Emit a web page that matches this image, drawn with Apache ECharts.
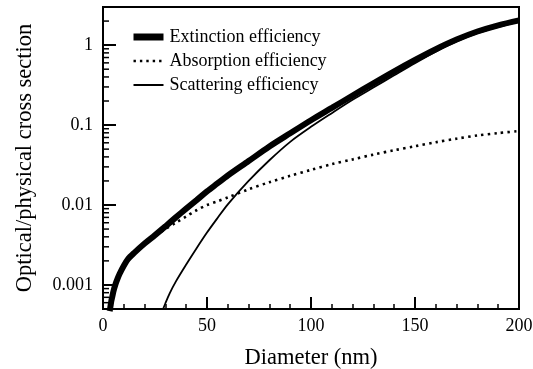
<!DOCTYPE html>
<html>
<head>
<meta charset="utf-8">
<script src="https://cdn.jsdelivr.net/npm/echarts@6/dist/echarts.min.js"></script>
<style>
  html, body { margin: 0; padding: 0; background: #fff; }
  #chart { width: 533px; height: 369px; }
</style>
</head>
<body>
<div id="chart"></div>
<script>
// diameters (nm) shared by extinction and absorption
const diameters = [3.2, 3.5, 4, 4.5, 5, 6, 7, 8, 10, 12, 15, 20, 25, 30, 35, 40, 45, 50, 55, 60, 70, 80, 90, 100, 110, 120, 130, 140, 150, 160, 170, 180, 190, 200]
const extinction = [0.00047, 0.00052, 0.00063, 0.00072, 0.00083, 0.00102, 0.0012, 0.00138, 0.00174, 0.0021, 0.00252, 0.0033, 0.0042, 0.0054, 0.0070, 0.0090, 0.0115, 0.0148, 0.0186, 0.0234, 0.0355, 0.054, 0.079, 0.115, 0.164, 0.234, 0.333, 0.47, 0.653, 0.89, 1.175, 1.48, 1.77, 2.04]
const absorption = [0.00047, 0.00052, 0.00063, 0.00072, 0.00083, 0.00102, 0.0012, 0.00138, 0.00174, 0.0021, 0.00252, 0.0033, 0.0041, 0.0050, 0.0060, 0.0072, 0.0086, 0.0100, 0.0111, 0.01245, 0.0157, 0.0193, 0.0232, 0.0275, 0.0324, 0.0372, 0.0427, 0.0484, 0.0543, 0.061, 0.0676, 0.0741, 0.0794, 0.0841]

// scattering only rises into view after ~28 nm
const scatterDiameters = [28.5, 30, 32, 35, 40, 45, 50, 55, 60, 70, 80, 90, 100, 110, 120, 130, 140, 150, 160, 170, 180, 190, 200]
const scattering = [0.00047, 0.00059, 0.00078, 0.0011, 0.0018, 0.00288, 0.00452, 0.00684, 0.0102, 0.020, 0.0363, 0.0617, 0.095, 0.141, 0.207, 0.295, 0.42, 0.596, 0.83, 1.11, 1.41, 1.69, 1.96]

const seriesNames = ['Extinction efficiency', 'Absorption efficiency', 'Scattering efficiency']
const xTicks = [0, 50, 100, 150, 200]
const yTickLabels = { '-3': '0.001', '-2': '0.01', '-1': '0.1', '0': '1' }

// log minor ticks 2..9 in every decade
const yMinorTicks = []
for (let e = -4; e <= 0; e++) {
  for (let m = 2; m <= 9; m++) {
    const v = m * Math.pow(10, e)
    if (v > 0.0005 && v < 3) yMinorTicks.push([0, v])
  }
}

const serif = 'Liberation Serif'
const pair = (xs, ys) => xs.map((x, i) => [x, ys[i]])
const noSymbol = { color: 'rgba(0,0,0,0)', borderWidth: 0 }

const chart = echarts.init(document.getElementById('chart'))
chart.setOption({
  animation: false,
  textStyle: { fontFamily: serif, color: '#000' },
  grid: {
    left: 103, right: 14, top: 7, bottom: 60,
    outerBoundsMode: 'none',
    show: true, borderColor: '#000', borderWidth: 2
  },
  legend: {
    orient: 'vertical',
    left: 130,
    top: 28,
    padding: 0,
    itemWidth: 30,
    itemHeight: 14,
    itemGap: 6,
    textStyle: { fontFamily: serif, fontSize: 18, color: '#000', padding: [0, 0, 0, 1] },
    data: [
      { name: seriesNames[0], itemStyle: noSymbol, lineStyle: { width: 7 } },
      { name: seriesNames[1], itemStyle: noSymbol, lineStyle: { width: 2.4, type: [2.4, 4] } },
      { name: seriesNames[2], itemStyle: noSymbol, lineStyle: { width: 2 } }
    ]
  },
  xAxis: {
    type: 'value',
    min: xTicks[0],
    max: xTicks[xTicks.length - 1],
    interval: 50,
    name: 'Diameter (nm)',
    nameLocation: 'middle',
    nameGap: 38,
    nameTextStyle: { fontFamily: serif, fontSize: 22.5, color: '#000' },
    axisLine: { lineStyle: { color: '#000', width: 2 } },
    axisTick: { inside: true, length: 12, lineStyle: { color: '#000', width: 2 } },
    minorTick: { show: true, splitNumber: 5, length: 5, lineStyle: { color: '#000', width: 1.5 } },
    axisLabel: { fontFamily: serif, fontSize: 18, color: '#000', margin: 8 },
    splitLine: { show: false }
  },
  yAxis: {
    type: 'log',
    min: 0.0005,
    max: 3,
    name: 'Optical/physical cross section',
    nameLocation: 'middle',
    nameGap: 66,
    nameTextStyle: { fontFamily: serif, fontSize: 22.5, color: '#000' },
    axisLine: { lineStyle: { color: '#000', width: 2 } },
    axisTick: { inside: true, length: 13, lineStyle: { color: '#000', width: 2 } },
    axisLabel: {
      fontFamily: serif, fontSize: 18, color: '#000', margin: 10,
      formatter: v => {
        const e = Math.round(Math.log10(v))
        if (Math.abs(Math.log10(v) - e) > 1e-6) return ''
        return yTickLabels[String(e)] || ''
      }
    },
    splitLine: { show: false }
  },
  series: [
    {
      name: seriesNames[0],
      type: 'line',
      symbol: 'none',
      smooth: 0.3,
      itemStyle: { color: '#000' },
      lineStyle: { color: '#000', width: 6 },
      data: pair(diameters, extinction),
      z: 3
    },
    {
      name: seriesNames[1],
      type: 'line',
      symbol: 'none',
      smooth: 0.3,
      itemStyle: { color: '#000' },
      lineStyle: { color: '#000', width: 2.6, type: [2.4, 4.2] },
      data: pair(diameters, absorption),
      z: 2
    },
    {
      name: seriesNames[2],
      type: 'line',
      symbol: 'none',
      smooth: 0.3,
      itemStyle: { color: '#000' },
      lineStyle: { color: '#000', width: 1.8 },
      data: pair(scatterDiameters, scattering),
      z: 4
    },
    {
      type: 'custom',
      silent: true,
      clip: false,
      data: yMinorTicks,
      renderItem: (params, api) => {
        const p = api.coord([api.value(0), api.value(1)])
        return {
          type: 'line',
          shape: { x1: p[0], y1: p[1], x2: p[0] + 6, y2: p[1] },
          style: { stroke: '#000', lineWidth: 1.5 }
        }
      },
      z: 5
    }
  ]
})
</script>
</body>
</html>
